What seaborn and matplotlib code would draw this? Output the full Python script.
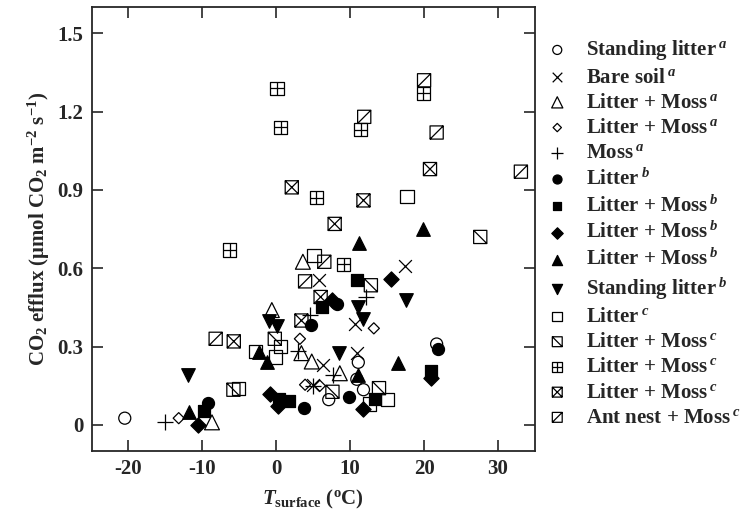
import numpy as np
import matplotlib
matplotlib.use("Agg")
import matplotlib.pyplot as plt
import seaborn as sns
from matplotlib.path import Path

# x = surface temperature (degC), y = CO2 efflux (umol CO2 m-2 s-1)
standing_litter_a_x = [-20.5, 21.7, 11.1, 10.9, 7.1, 11.8]
standing_litter_a_y = [0.026, 0.31, 0.24, 0.175, 0.097, 0.135]

bare_soil_a_x = [17.4, 5.8, 10.6, 10.9, 6.3, 5.0]
bare_soil_a_y = [0.61, 0.554, 0.387, 0.277, 0.23, 0.153]

litter_moss_a_tri_x = [-8.7, -0.6, 3.6, 3.4, 4.8, 8.6]
litter_moss_a_tri_y = [0.01, 0.44, 0.625, 0.275, 0.243, 0.198]

litter_moss_a_dia_x = [-13.2, 3.2, 3.9, 5.9, 13.2]
litter_moss_a_dia_y = [0.026, 0.33, 0.154, 0.15, 0.37]

moss_a_x = [-15.1, 3.0, 4.6, 12.2, 5.0, 7.7]
moss_a_y = [0.01, 0.285, 0.42, 0.49, 0.15, 0.192]

litter_b_x = [-9.3, 4.7, 8.2, 3.7, 9.8, 21.9]
litter_b_y = [0.084, 0.382, 0.462, 0.064, 0.106, 0.29]

litter_moss_b_sq_x = [-9.8, 0.4, 1.7, 10.9, 6.2, 13.3, 21.0]
litter_moss_b_sq_y = [0.055, 0.10, 0.09, 0.557, 0.45, 0.099, 0.207]

litter_moss_b_dia_x = [-10.6, -0.8, 0.3, 15.5, 11.7, 21.0, 7.5]
litter_moss_b_dia_y = [0.0, 0.118, 0.073, 0.56, 0.063, 0.18, 0.48]

litter_moss_b_tri_x = [-11.8, -2.4, -1.25, 19.9, 11.2, 16.5, 11.1]
litter_moss_b_tri_y = [0.05, 0.28, 0.24, 0.75, 0.695, 0.237, 0.19]

standing_litter_b_x = [-11.9, -1.0, 0.1, 17.6, 11.1, 11.8, 8.5]
standing_litter_b_y = [0.19, 0.40, 0.38, 0.48, 0.45, 0.405, 0.277]

litter_c_x = [-5.1, 0.55, -2.8, -0.1, 5.1, 17.7, 15.1, 12.6]
litter_c_y = [0.14, 0.30, 0.28, 0.26, 0.65, 0.876, 0.099, 0.08]

litter_moss_c_diag_x = [-5.8, -0.2, 12.8, 27.6, 7.6, 13.9]
litter_moss_c_diag_y = [0.135, 0.33, 0.535, 0.72, 0.127, 0.141]

litter_moss_c_plus_x = [0.1, 0.6, 5.4, 19.9, 11.4, 9.1, -6.3]
litter_moss_c_plus_y = [1.29, 1.14, 0.87, 1.27, 1.13, 0.615, 0.67]

litter_moss_c_cross_x = [2.1, 11.8, 20.8, 7.9, 3.4, 6.0, -5.75]
litter_moss_c_cross_y = [0.91, 0.86, 0.98, 0.77, 0.40, 0.49, 0.32]

ant_nest_x = [20.0, 11.9, 21.7, 33.1, 3.9, 6.5, -8.2]
ant_nest_y = [1.32, 1.18, 1.12, 0.97, 0.55, 0.625, 0.33]

x_ticks = [-20, -10, 0, 10, 20, 30]
y_ticks = [0, 0.3, 0.6, 0.9, 1.2, 1.5]
y_tick_labels = ["0", "0.3", "0.6", "0.9", "1.2", "1.5"]

# square markers with inner lines
M, L = Path.MOVETO, Path.LINETO
box = [(-1, -1), (1, -1), (1, 1), (-1, 1), (-1, -1)]
box_codes = [M, L, L, L, Path.CLOSEPOLY]


def boxed(segments):
    verts = list(box)
    codes = list(box_codes)
    for a, b in segments:
        verts += [a, b]
        codes += [M, L]
    return Path(verts, codes)


box_back = boxed([((-1, 1), (1, -1))])
box_plus = boxed([((0, -1), (0, 1)), ((-1, 0), (1, 0))])
box_cross = boxed([((-1, -1), (1, 1)), ((-1, 1), (1, -1))])
box_fwd = boxed([((-1, -1), (1, 1))])

sns.set_style("ticks")
plt.rcParams["font.family"] = ["Liberation Serif", "DejaVu Serif"]
plt.rcParams["font.weight"] = "bold"
plt.rcParams["mathtext.fontset"] = "custom"
plt.rcParams["mathtext.rm"] = "Liberation Serif:bold"
plt.rcParams["mathtext.bf"] = "Liberation Serif:bold"
plt.rcParams["mathtext.it"] = "Liberation Serif:italic:bold"
plt.rcParams["mathtext.default"] = "rm"
plt.rcParams["axes.unicode_minus"] = False

fig = plt.figure(figsize=(7.44, 5.12), dpi=100)
ax = fig.add_axes([0.123, 0.119, 0.596, 0.867])

sup = "$\\,^{\\mathit{%s}}$"
# (label, x, y, marker, size, fill)
series = [
    ("Standing litter" + sup % "a", standing_litter_a_x, standing_litter_a_y, "o", 75, "none"),
    ("Bare soil" + sup % "a", bare_soil_a_x, bare_soil_a_y, "x", 85, "black"),
    ("Litter + Moss" + sup % "a", litter_moss_a_tri_x, litter_moss_a_tri_y, "^", 115, "none"),
    ("Litter + Moss" + sup % "a", litter_moss_a_dia_x, litter_moss_a_dia_y, "D", 32, "none"),
    ("Moss" + sup % "a", moss_a_x, moss_a_y, "+", 130, "black"),
    ("Litter" + sup % "b", litter_b_x, litter_b_y, "o", 75, "black"),
    ("Litter + Moss" + sup % "b", litter_moss_b_sq_x, litter_moss_b_sq_y, "s", 70, "black"),
    ("Litter + Moss" + sup % "b", litter_moss_b_dia_x, litter_moss_b_dia_y, "D", 60, "black"),
    ("Litter + Moss" + sup % "b", litter_moss_b_tri_x, litter_moss_b_tri_y, "^", 95, "black"),
    ("Standing litter" + sup % "b", standing_litter_b_x, standing_litter_b_y, "v", 95, "black"),
    ("Litter" + sup % "c", litter_c_x, litter_c_y, "s", 90, "none"),
    ("Litter + Moss" + sup % "c", litter_moss_c_diag_x, litter_moss_c_diag_y, box_back, 90, "none"),
    ("Litter + Moss" + sup % "c", litter_moss_c_plus_x, litter_moss_c_plus_y, box_plus, 90, "none"),
    ("Litter + Moss" + sup % "c", litter_moss_c_cross_x, litter_moss_c_cross_y, box_cross, 90, "none"),
    ("Ant nest + Moss" + sup % "c", ant_nest_x, ant_nest_y, box_fwd, 90, "none"),
]

for label, xs, ys, marker, size, fill in series:
    sns.scatterplot(x=xs, y=ys, marker=marker, s=size, ax=ax,
                    facecolor=fill, edgecolor="black", linewidth=0.9,
                    label=label)

ax.set_xlim(-25, 35)
ax.set_ylim(-0.1, 1.6)
ax.set_xticks(x_ticks)
ax.set_xticklabels([str(t) for t in x_ticks])
ax.set_yticks(y_ticks)
ax.set_yticklabels(y_tick_labels)
ax.tick_params(direction="in", length=8, width=1.2, top=True, right=True,
               labelsize=15, pad=6)
for sp in ax.spines.values():
    sp.set_linewidth(1.3)

ax.set_xlabel("$\\mathit{T}_{\\mathrm{surface}}$ ($^{\\mathrm{o}}$C)", fontsize=15,
              fontweight="bold", labelpad=6)
ax.set_ylabel("CO$_2$ efflux (μmol CO$_2$ m$^{-2}$ s$^{-1}$)", fontsize=15, fontweight="bold")

handles, labels = ax.get_legend_handles_labels()
if ax.legend_:
    ax.legend_.remove()
fig.legend(handles, labels, loc="upper left", bbox_to_anchor=(0.735, 0.925),
           bbox_transform=fig.transFigure, frameon=False,
           handlelength=1.0, handletextpad=0.9, labelspacing=0.25,
           borderpad=0, borderaxespad=0, markerscale=0.75,
           prop={"family": "Liberation Serif", "weight": "bold", "size": 15})

fig.savefig("out.png", dpi=100)
